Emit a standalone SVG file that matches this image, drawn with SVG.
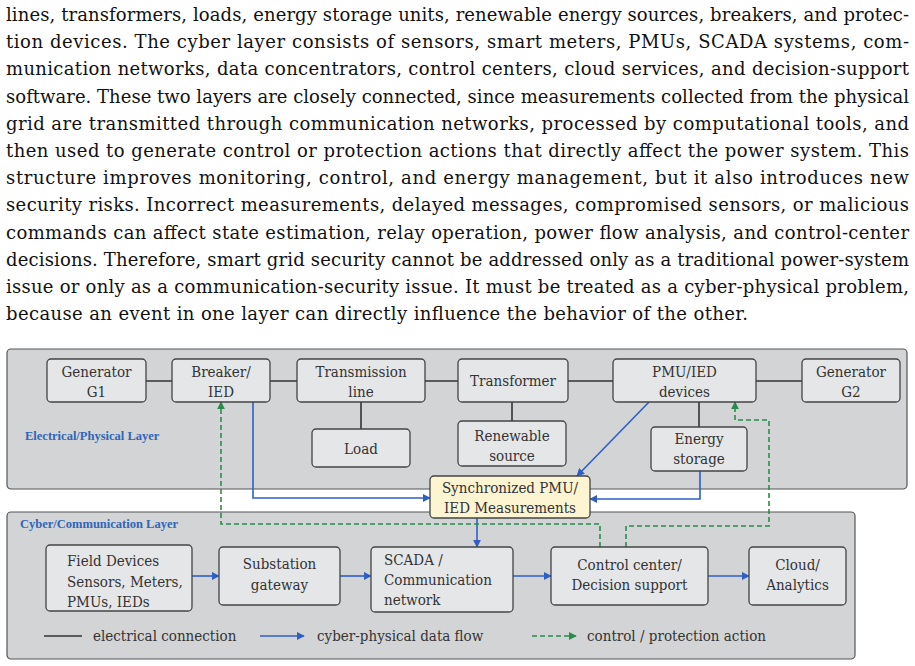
<svg xmlns="http://www.w3.org/2000/svg" width="915" height="666" viewBox="0 0 915 666">
<style>
.para{font-family:"DejaVu Serif",serif;font-size:18px;fill:#111}
.panel{fill:#d3d4d6;stroke:#555;stroke-width:1.2}
.node rect{fill:#e5e6e8;stroke:#444;stroke-width:1.3}
.node text,.leg{font-family:"DejaVu Serif",serif;font-stretch:condensed;font-size:15px;fill:#333}
.c{text-anchor:middle}
.lay{font-family:"Liberation Serif","DejaVu Serif",serif;font-size:12.5px;font-weight:bold;fill:#2f66b8}
.el{stroke:#333;stroke-width:1.6;fill:none}
.cy{stroke:#2f5fc4;stroke-width:1.6;fill:none}
.ct{stroke:#2a8c4c;stroke-width:1.6;fill:none;stroke-dasharray:5 3}
</style>
<defs>
<marker id="ab" viewBox="0 0 10 10" refX="9" refY="5" markerWidth="8" markerHeight="8" markerUnits="userSpaceOnUse" orient="auto"><path d="M0,0 L10,5 L0,10 z" fill="#2f5fc4"/></marker>
<marker id="ag" viewBox="0 0 10 10" refX="9" refY="5" markerWidth="8" markerHeight="8" markerUnits="userSpaceOnUse" orient="auto"><path d="M0,0 L10,5 L0,10 z" fill="#2a8c4c"/></marker>
</defs>
<rect width="915" height="666" fill="#fff"/>
<g id="paragraph">
<text class="para" x="6" y="21" textLength="903" lengthAdjust="spacing">lines, transformers, loads, energy storage units, renewable energy sources, breakers, and protec-</text>
<text class="para" x="6" y="48" textLength="903" lengthAdjust="spacing">tion devices. The cyber layer consists of sensors, smart meters, PMUs, SCADA systems, com-</text>
<text class="para" x="6" y="75" textLength="903" lengthAdjust="spacing">munication networks, data concentrators, control centers, cloud services, and decision-support</text>
<text class="para" x="6" y="103" textLength="903" lengthAdjust="spacing">software. These two layers are closely connected, since measurements collected from the physical</text>
<text class="para" x="6" y="130" textLength="903" lengthAdjust="spacing">grid are transmitted through communication networks, processed by computational tools, and</text>
<text class="para" x="6" y="157" textLength="903" lengthAdjust="spacing">then used to generate control or protection actions that directly affect the power system. This</text>
<text class="para" x="6" y="184" textLength="903" lengthAdjust="spacing">structure improves monitoring, control, and energy management, but it also introduces new</text>
<text class="para" x="6" y="211" textLength="903" lengthAdjust="spacing">security risks. Incorrect measurements, delayed messages, compromised sensors, or malicious</text>
<text class="para" x="6" y="239" textLength="903" lengthAdjust="spacing">commands can affect state estimation, relay operation, power flow analysis, and control-center</text>
<text class="para" x="6" y="266" textLength="903" lengthAdjust="spacing">decisions. Therefore, smart grid security cannot be addressed only as a traditional power-system</text>
<text class="para" x="6" y="293" textLength="903" lengthAdjust="spacing">issue or only as a communication-security issue. It must be treated as a cyber-physical problem,</text>
<text class="para" x="6" y="320" textLength="742" lengthAdjust="spacing">because an event in one layer can directly influence the behavior of the other.</text>
</g>
<g id="layers">
<rect class="panel" x="7" y="349" width="900" height="140" rx="4"/>
<rect class="panel" x="7" y="512" width="848" height="147" rx="4"/>
<text class="lay" x="25" y="440">Electrical/Physical Layer</text>
<text class="lay" x="20" y="528">Cyber/Communication Layer</text>
</g>
<g id="connectors">
<path class="el" d="M146,381 H172 M270,381 H297 M425,381 H458 M568,381 H613 M756,381 H802"/>
<path class="el" d="M361,402 V429 M512,402 V421 M699,402 V427"/>
<path class="cy" d="M253,402 V498 H430" marker-end="url(#ab)"/>
<path class="cy" d="M700,471 V499 H590" marker-end="url(#ab)"/>
<path class="cy" d="M649,402 L577,476" marker-end="url(#ab)"/>
<path class="cy" d="M477,518 V547" marker-end="url(#ab)"/>
<path class="cy" d="M192,576 H219" marker-end="url(#ab)"/>
<path class="cy" d="M340,576 H371" marker-end="url(#ab)"/>
<path class="cy" d="M513,576 H551" marker-end="url(#ab)"/>
<path class="cy" d="M708,576 H749" marker-end="url(#ab)"/>
<path class="ct" d="M600,547 V524 H221 V402" marker-end="url(#ag)"/>
<path class="ct" d="M626,547 V526 H769 V420 H735 V402" marker-end="url(#ag)"/>
</g>
<g id="g1" class="node"><rect x="47" y="359" width="99" height="43" rx="4"/><text class="c" x="96.5" y="377">Generator</text><text class="c" x="96.5" y="397">G1</text></g>
<g id="breaker" class="node"><rect x="172" y="359" width="98" height="43" rx="4"/><text class="c" x="221" y="377">Breaker/</text><text class="c" x="221" y="397">IED</text></g>
<g id="tline" class="node"><rect x="297" y="359" width="128" height="43" rx="4"/><text class="c" x="361" y="377">Transmission</text><text class="c" x="361" y="397">line</text></g>
<g id="transformer" class="node"><rect x="458" y="359" width="110" height="43" rx="4"/><text class="c" x="513" y="386">Transformer</text></g>
<g id="pmu" class="node"><rect x="613" y="359" width="143" height="43" rx="4"/><text class="c" x="684.5" y="377">PMU/IED</text><text class="c" x="684.5" y="397">devices</text></g>
<g id="g2" class="node"><rect x="802" y="359" width="98" height="43" rx="4"/><text class="c" x="851" y="377">Generator</text><text class="c" x="851" y="397">G2</text></g>
<g id="load" class="node"><rect x="312" y="429" width="98" height="38" rx="4"/><text class="c" x="361" y="454">Load</text></g>
<g id="renewable" class="node"><rect x="458" y="421" width="108" height="45" rx="4"/><text class="c" x="512" y="441">Renewable</text><text class="c" x="512" y="461">source</text></g>
<g id="storage" class="node"><rect x="651" y="427" width="96" height="44" rx="4"/><text class="c" x="699" y="444">Energy</text><text class="c" x="699" y="464">storage</text></g>
<g id="sync" class="node"><rect x="430" y="476" width="160" height="42" rx="4" style="fill:#fdf4d2"/><text class="c" x="510" y="493">Synchronized PMU/</text><text class="c" x="510" y="513">IED Measurements</text></g>
<g id="field" class="node"><rect x="46" y="545" width="146" height="66" rx="4"/><text x="67" y="566">Field Devices</text><text x="67" y="587">Sensors, Meters,</text><text x="67" y="607">PMUs, IEDs</text></g>
<g id="gateway" class="node"><rect x="219" y="547" width="121" height="58" rx="4"/><text class="c" x="279.5" y="569">Substation</text><text class="c" x="279.5" y="590">gateway</text></g>
<g id="scada" class="node"><rect x="371" y="547" width="142" height="65" rx="4"/><text x="384" y="565">SCADA /</text><text x="384" y="585">Communication</text><text x="384" y="605">network</text></g>
<g id="control" class="node"><rect x="551" y="547" width="157" height="58" rx="4"/><text class="c" x="629.5" y="570">Control center/</text><text class="c" x="629.5" y="590">Decision support</text></g>
<g id="cloud" class="node"><rect x="749" y="547" width="97" height="58" rx="4"/><text class="c" x="797.5" y="570">Cloud/</text><text class="c" x="797.5" y="590">Analytics</text></g>
<g id="legend">
<path class="el" d="M44,636 H82"/>
<text class="leg" x="93" y="641">electrical connection</text>
<path class="cy" d="M260,636 H304" marker-end="url(#ab)"/>
<text class="leg" x="317" y="641">cyber-physical data flow</text>
<path class="ct" d="M532,636 H576" marker-end="url(#ag)"/>
<text class="leg" x="587" y="641">control / protection action</text>
</g>
</svg>
